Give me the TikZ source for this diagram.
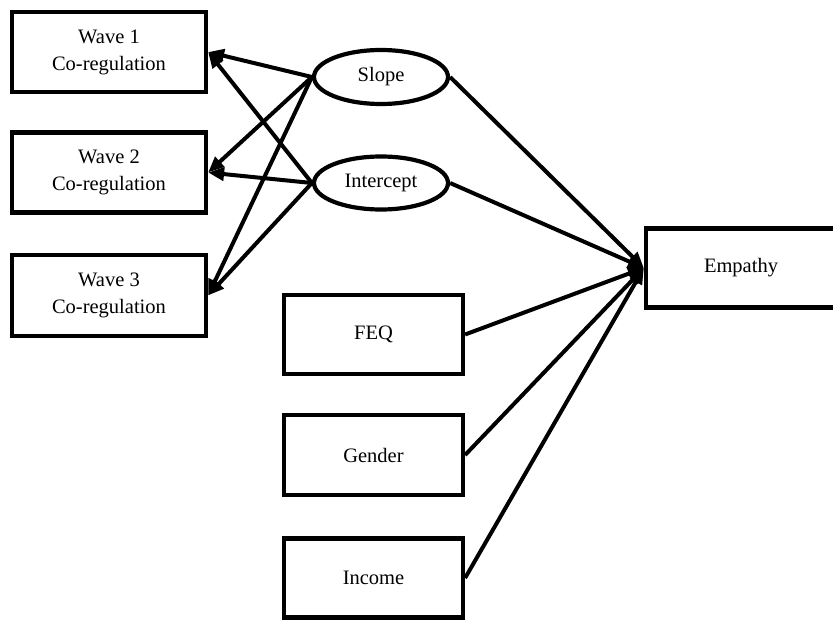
\documentclass[tikz,border=0pt]{standalone}
\usepackage{fontspec}
\setmainfont{Liberation Serif}
\usetikzlibrary{arrows.meta,shapes.geometric}
\begin{document}
\begin{tikzpicture}[x=1pt,y=-1pt,
  txt/.style={font=\fontsize{20.5}{27}\selectfont, align=center, inner sep=0pt},
  box/.style={txt, draw, line width=4.2pt, minimum width=194pt, minimum height=80pt},
  smallbox/.style={txt, draw, line width=4.2pt, minimum width=179pt, minimum height=79pt},
  ell/.style={txt, draw, ellipse, line width=4.2pt, minimum width=134pt, minimum height=53pt},
  arr/.style={line width=4pt, -{Triangle[length=16pt,width=13pt]}}]
\useasboundingbox (0,0) rectangle (833,620);
\node[box] (w1) at (109,52) {Wave 1\\Co-regulation};
\node[box] (w2) at (109,172.5) {Wave 2\\Co-regulation};
\node[box, minimum height=81pt] (w3) at (109,295.5) {Wave 3\\Co-regulation};
\node[ell, minimum height=54pt] (slope) at (381,77) {Slope};
\node[ell] (inter) at (381,183) {Intercept};
\node[smallbox] (feq) at (373.5,334.5) {FEQ};
\node[smallbox, minimum height=80pt] (gender) at (373.5,455) {Gender};
\node[smallbox] (income) at (373.5,578) {Income};
\node[txt, draw, line width=4.2pt, minimum width=190pt, minimum height=79pt] (emp) at (741,268) {Empathy};
\draw[arr] (slope.west) -- (w1.east);
\draw[arr] (inter.west) -- (w1.east);
\draw[arr] (slope.west) -- (w2.east);
\draw[arr] (inter.west) -- (w2.east);
\draw[arr] (slope.west) -- (w3.east);
\draw[arr] (inter.west) -- (w3.east);
\draw[arr] (slope.east) -- (emp.west);
\draw[arr] (inter.east) -- (emp.west);
\draw[arr] (feq.east) -- (emp.west);
\draw[arr] (gender.east) -- (emp.west);
\draw[arr] (income.east) -- (emp.west);
\end{tikzpicture}
\end{document}
